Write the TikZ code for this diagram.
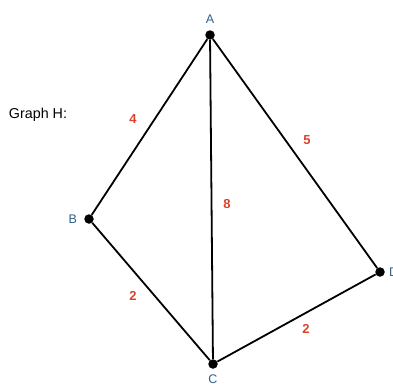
\documentclass[tikz,border=0pt]{standalone}
\usepackage{fontspec}
\setmainfont{Liberation Sans}
\usepackage{xcolor}
\usepackage{tikz}
\usetikzlibrary{positioning}
\definecolor{VertBlue}{HTML}{2F5F8F}
\definecolor{WeightRed}{HTML}{D8432A}

\begin{document}
\begin{tikzpicture}[x=1pt,y=-1pt, every node/.style={font=\fontsize{12.5}{14}\selectfont}, vert/.style={circle,fill=black,inner sep=0pt,minimum size=9.5pt}, vlab/.style={text=VertBlue,inner sep=1pt}, wlab/.style={text=WeightRed,font=\fontsize{13}{15}\selectfont\bfseries,inner sep=1pt}, edge/.style={line width=1.8pt,black}]
\useasboundingbox (0,0) rectangle (393,383);
\node[font=\fontsize{14.3}{16}\selectfont] (title) at (38,115) {Graph H:};
\node[vert] (A) at (210,35) {};
\node[vert] (B) at (89,219) {};
\node[vert] (C) at (213,364) {};
\node[vert] (D) at (380,272) {};
\node[vlab,above=5pt of A] (labA) {A};
\node[vlab,left=6pt of B] (labB) {B};
\node[vlab,below=5pt of C] (labC) {C};
\node[vlab,right=3pt of D] (labD) {D};
\draw[edge] (A)--(B);
\draw[edge] (A)--(C);
\draw[edge] (A)--(D);
\draw[edge] (B)--(C);
\draw[edge] (C)--(D);
\node[wlab] (wAB) at (133,119) {4};
\node[wlab] (wAD) at (307,140) {5};
\node[wlab] (wAC) at (227,204) {8};
\node[wlab] (wBC) at (133,296) {2};
\node[wlab] (wCD) at (306,329) {2};
\end{tikzpicture}
\end{document}
